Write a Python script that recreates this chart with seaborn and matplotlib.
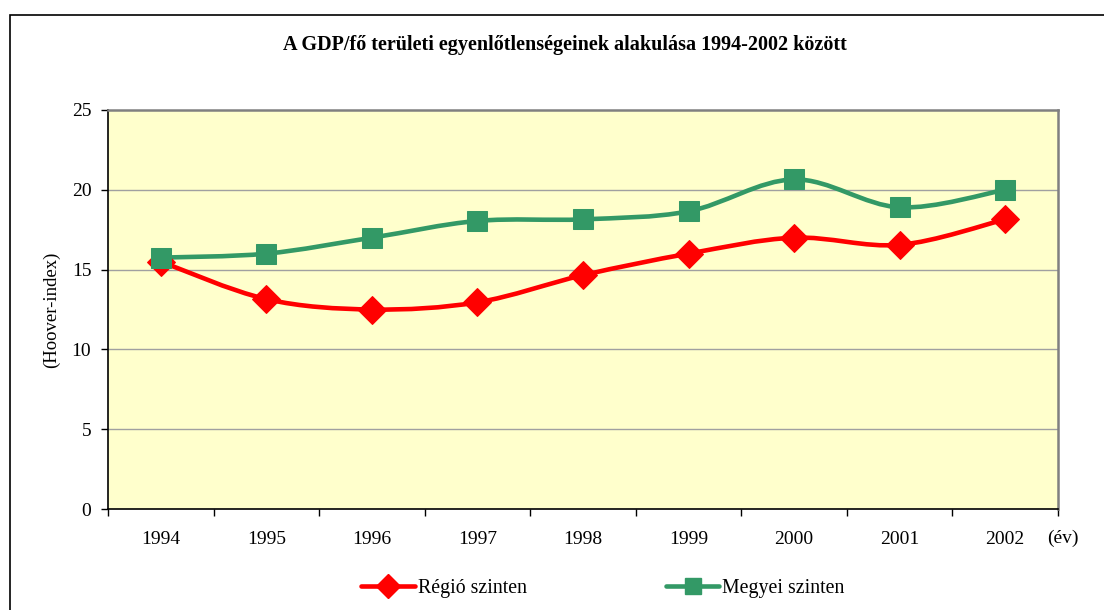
import matplotlib
matplotlib.use("Agg")
import matplotlib.pyplot as plt
import seaborn as sns
import numpy as np
import pandas as pd
from matplotlib.path import Path
from matplotlib.patches import PathPatch, Rectangle
from matplotlib.lines import Line2D

years = ["1994", "1995", "1996", "1997", "1998", "1999", "2000", "2001", "2002"]
regio = [15.5, 13.15, 12.5, 12.95, 14.65, 16.0, 17.0, 16.55, 18.15]
megyei = [15.75, 16.0, 17.0, 18.05, 18.15, 18.65, 20.65, 18.9, 20.0]
yticks = [0, 5, 10, 15, 20, 25]

title = "A GDP/fő területi egyenlőtlenségeinek alakulása 1994-2002 között"
ylabel = "(Hoover-index)"
xunit = "(év)"
lab_regio = "Régió szinten"
lab_megyei = "Megyei szinten"

RED = "#FF0000"
GREEN = "#339966"

sns.set_theme(style="white")
plt.rcParams["font.family"] = ["Liberation Serif", "DejaVu Serif"]
plt.rcParams["text.color"] = "black"
plt.rcParams["axes.labelcolor"] = "black"
plt.rcParams["xtick.color"] = "black"
plt.rcParams["ytick.color"] = "black"

fig = plt.figure(figsize=(11.04, 6.10), dpi=100)
fig.patch.set_facecolor("white")
# outer chart-area frame
fig.patches.append(Rectangle((10 / 1104, -0.1), 1.2, 1 - 15 / 610 + 0.1,
                             transform=fig.transFigure, fill=False,
                             edgecolor="black", lw=1.2, zorder=0))

ax = fig.add_axes([108 / 1104, 1 - 509 / 610, 950 / 1104, 399 / 610])
ax.set_facecolor("#FFFFCC")

df = pd.DataFrame({"x": np.arange(len(years)), "regio": regio, "megyei": megyei})


def smooth_path(xs, ys):
    pts = np.column_stack([xs, ys]).astype(float)
    n = len(pts)
    verts = [pts[0]]
    codes = [Path.MOVETO]
    for i in range(n - 1):
        p0 = pts[i - 1] if i > 0 else pts[i]
        p1 = pts[i]
        p2 = pts[i + 1]
        p3 = pts[i + 2] if i + 2 < n else pts[i + 1]
        c1 = p1 + (p2 - p0) / 6.0
        c2 = p2 - (p3 - p1) / 6.0
        verts += [c1, c2, p2]
        codes += [Path.CURVE4] * 3
    return Path(verts, codes)


for col, color in (("regio", RED), ("megyei", GREEN)):
    ax.add_patch(PathPatch(smooth_path(df["x"], df[col]), fill=False,
                           edgecolor=color, lw=3.3, capstyle="round",
                           joinstyle="round", zorder=3))

sns.lineplot(data=df, x="x", y="regio", ax=ax, marker="D", markersize=14.5,
             color=RED, markeredgecolor=RED, lw=0, zorder=4)
sns.lineplot(data=df, x="x", y="megyei", ax=ax, marker="s", markersize=15,
             color=GREEN, markeredgecolor=GREEN, lw=0, zorder=5)

ax.set_xlim(-0.5, len(years) - 0.5)
ax.set_ylim(0, 25)
ax.set_yticks(yticks)
ax.set_yticklabels([str(v) for v in yticks], fontsize=14)
ax.set_xticks(np.arange(len(years)))
ax.set_xticklabels(years, fontsize=14)
ax.set_xticks(np.arange(-0.5, len(years)), minor=True)
ax.tick_params(axis="x", which="major", length=0, pad=16)
ax.tick_params(axis="x", which="minor", length=5, width=1, direction="out",
               color="black", bottom=True)
ax.tick_params(axis="y", which="major", length=5, width=1, direction="out",
               color="black", left=True, pad=7)
ax.set_xlabel("")
ax.set_ylabel(ylabel, fontsize=13.5, labelpad=8)

for v in yticks[1:-1]:
    ax.axhline(v, color="#A0A0A0", lw=1, zorder=1)

for s in ("left", "bottom"):
    ax.spines[s].set_color("black")
    ax.spines[s].set_linewidth(1.2)
for s in ("top", "right"):
    ax.spines[s].set_color("#808080")
    ax.spines[s].set_linewidth(1.8)

ax.text(1.0 + 5 / 950, -29 / 399, xunit, transform=ax.transAxes,
        fontsize=14, ha="center", va="center")

fig.text(565 / 1104, 1 - 45 / 610, title, fontsize=14.5, fontweight="bold",
         ha="center", va="center")

handles = [Line2D([], [], color=RED, lw=3.3, marker="D", markersize=12),
           Line2D([], [], color=GREEN, lw=3.3, marker="s", markersize=12)]
fig.legend(handles, [lab_regio, lab_megyei], loc="center",
           bbox_to_anchor=(603 / 1104, 1 - 588 / 610), ncol=2, frameon=False,
           fontsize=14.3, handlelength=2.7, handletextpad=0.15,
           columnspacing=7.0)

fig.savefig("out.png", dpi=100)
